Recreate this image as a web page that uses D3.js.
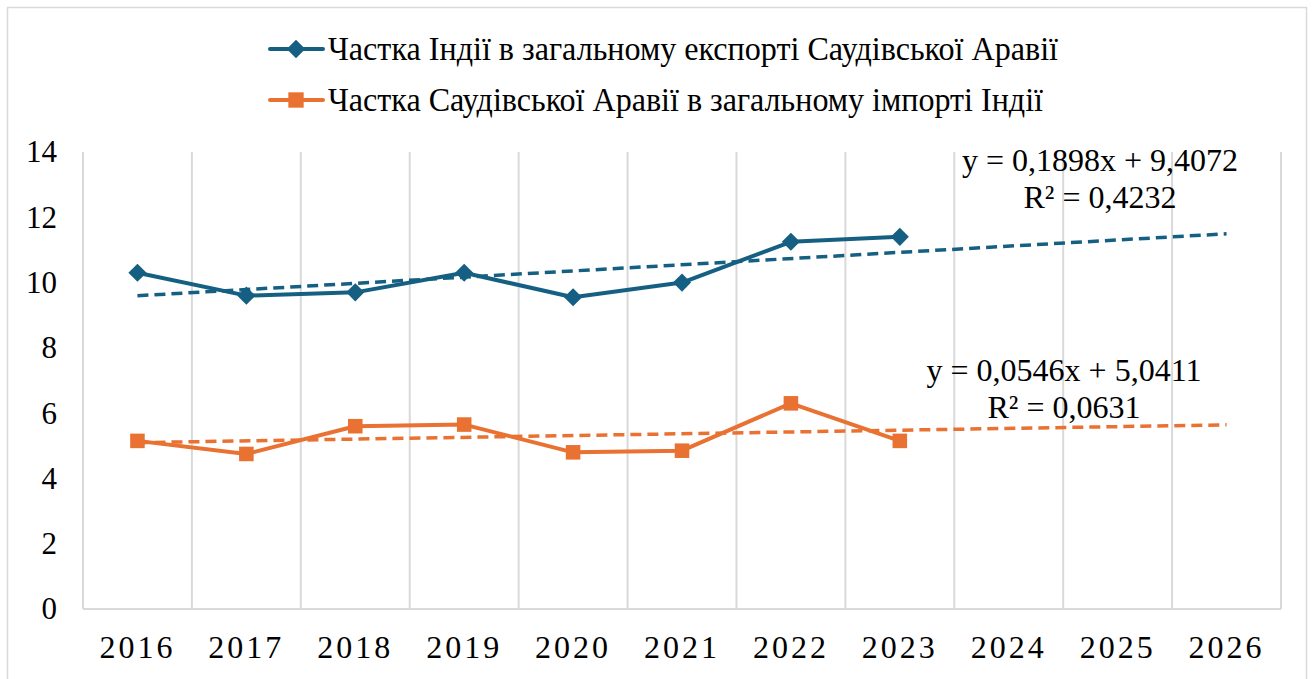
<!DOCTYPE html>
<html>
<head>
<meta charset="utf-8">
<script src="https://cdn.jsdelivr.net/npm/d3@7"></script>
<style>
    body { margin: 0; background: #fff; }
    svg text { font-family: "Liberation Serif", "Times New Roman", serif; fill: #000; }
</style>
</head>
<body>
<div id="chart"></div>
<script>
//Datos
const years = ['2016', '2017', '2018', '2019', '2020', '2021', '2022', '2023', '2024', '2025', '2026'];
const exportShare = [10.3, 9.6, 9.7, 10.3, 9.55, 10.0, 11.25, 11.4];
const importShare = [5.15, 4.75, 5.6, 5.65, 4.8, 4.85, 6.3, 5.15];
const seriesNames = ['Частка Індії в загальному експорті Саудівської Аравії', 'Частка Саудівської Аравії в загальному імпорті Індії'];
const trendSlopes = [0.1898, 0.0546];
const trendIntercepts = [9.4072, 5.0411];
const trendEquations = ['y = 0,1898x + 9,4072', 'y = 0,0546x + 5,0411'];
const trendR2 = ['R² = 0,4232', 'R² = 0,0631'];
const yTicks = [0, 2, 4, 6, 8, 10, 12, 14];

//Colores fijos
const COLOR_BLUE = '#156082',
    COLOR_ORANGE = '#E97132',
    COLOR_GRID = '#d9d9d9';

let W = 1314, H = 679;
let margin = {top: 152, right: 33, bottom: 70, left: 83};

let svg = d3.select('#chart')
    .append('svg')
        .attr('width', W)
        .attr('height', H);

//Borde del gráfico
svg.append('rect')
    .attr('x', 7.5).attr('y', 7.5)
    .attr('width', 1299).attr('height', 700)
    .attr('fill', 'none')
    .attr('stroke', COLOR_GRID)
    .attr('stroke-width', 1.5);

let x = d3.scaleBand()
    .domain(years)
    .range([margin.left, W - margin.right]);

let cx = function(i) { return x(years[i]) + x.bandwidth() / 2; };

let y = d3.scaleLinear()
    .domain([0, 14])
    .range([H - margin.bottom, margin.top]);

//Rejilla vertical
let gridX = years.map(function(d) { return x(d); }).concat([x.range()[1]]);
svg.append('g')
    .selectAll('line')
    .data(gridX)
    .enter()
    .append('line')
    .attr('x1', function(d) { return d; })
    .attr('x2', function(d) { return d; })
    .attr('y1', y(14))
    .attr('y2', y(0))
    .attr('stroke', COLOR_GRID)
    .attr('stroke-width', 2);

svg.append('line')
    .attr('x1', x.range()[0]).attr('x2', x.range()[1])
    .attr('y1', y(0)).attr('y2', y(0))
    .attr('stroke', COLOR_GRID)
    .attr('stroke-width', 2);

//Ejes
let yAxis = svg.append('g')
    .attr('transform', 'translate(' + margin.left + ',0)')
    .call(d3.axisLeft(y).tickValues(yTicks).tickSize(0).tickPadding(26));
yAxis.select('.domain').remove();
yAxis.selectAll('text')
    .style('font-size', '31px')
    .style('font-family', '"Liberation Serif", serif');

let xAxis = svg.append('g')
    .attr('transform', 'translate(0,' + y(0) + ')')
    .call(d3.axisBottom(x).tickSize(0).tickPadding(26));
xAxis.select('.domain').remove();
xAxis.selectAll('text')
    .style('font-size', '32px')
    .style('letter-spacing', '3px')
    .style('font-family', '"Liberation Serif", serif');

//Líneas de tendencia
let trendLine = d3.line()
    .x(function(d) { return cx(d.i); })
    .y(function(d) { return y(d.v); });

let colors = [COLOR_BLUE, COLOR_ORANGE];
trendSlopes.forEach(function(s, k) {
    let pts = [0, years.length - 1].map(function(i) {
        return {i: i, v: s * (i + 1) + trendIntercepts[k]};
    });
    svg.append('path')
        .attr('d', trendLine(pts))
        .attr('fill', 'none')
        .attr('stroke', colors[k])
        .attr('stroke-width', 3.5)
        .attr('stroke-dasharray', '11,6');
});

//Series
let line = d3.line()
    .x(function(d, i) { return cx(i); })
    .y(function(d) { return y(d); });

[exportShare, importShare].forEach(function(data, k) {
    svg.append('path')
        .attr('d', line(data))
        .attr('fill', 'none')
        .attr('stroke', colors[k])
        .attr('stroke-width', 4)
        .attr('stroke-linejoin', 'round');

    let sym = k == 0 ? d3.symbolDiamond2 : d3.symbolSquare2;
    svg.append('g')
        .selectAll('path')
        .data(data)
        .enter()
        .append('path')
        .attr('transform', function(d, i) { return 'translate(' + cx(i) + ',' + y(d) + ')'; })
        .attr('d', d3.symbol().type(sym).size(k == 0 ? 210 : 270))
        .attr('fill', colors[k]);
});

//Ecuaciones
let eqPos = [{x: 1100, y: 171}, {x: 1064, y: 381}];
trendEquations.forEach(function(t, k) {
    svg.append('text')
        .attr('x', eqPos[k].x).attr('y', eqPos[k].y)
        .attr('text-anchor', 'middle')
        .style('font-size', '32px')
        .text(t);
    svg.append('text')
        .attr('x', eqPos[k].x).attr('y', eqPos[k].y + 37)
        .attr('text-anchor', 'middle')
        .style('font-size', '32px')
        .text(trendR2[k]);
});

//Leyenda
let legendY = [49, 100];
let legendW = [730, 715];
seriesNames.forEach(function(name, k) {
    let g = svg.append('g').attr('transform', 'translate(0,' + legendY[k] + ')');
    g.append('line')
        .attr('x1', 270).attr('x2', 323)
        .attr('y1', 0).attr('y2', 0)
        .attr('stroke', colors[k])
        .attr('stroke-width', 4)
        .attr('stroke-linecap', 'round');
    g.append('path')
        .attr('transform', 'translate(296,0)')
        .attr('d', d3.symbol().type(k == 0 ? d3.symbolDiamond2 : d3.symbolSquare2).size(k == 0 ? 220 : 300))
        .attr('fill', colors[k]);
    g.append('text')
        .attr('x', 328).attr('y', 11)
        .attr('textLength', legendW[k])
        .attr('lengthAdjust', 'spacingAndGlyphs')
        .style('font-size', '33px')
        .text(name);
});
</script>
</body>
</html>
